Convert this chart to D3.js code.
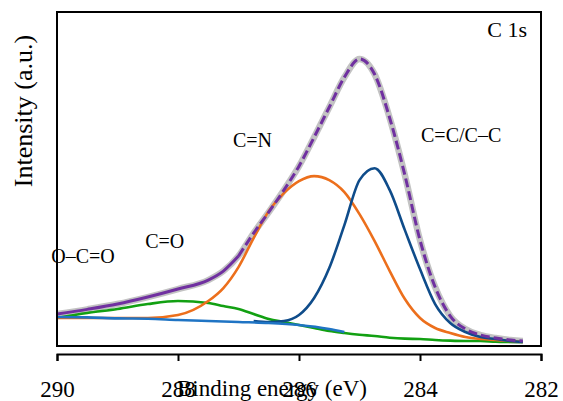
<!DOCTYPE html>
<html>
<head>
<meta charset="utf-8">
<script src="https://cdn.jsdelivr.net/npm/d3@7"></script>
<style>
  body { margin: 0; background: #fff; }
  text { font-family: "Liberation Serif", "Times New Roman", serif; fill: #000; }
</style>
</head>
<body>
<svg width="563" height="401"></svg>
<script>
// binding energies (eV) shared by all traces
var energy = [290.0, 289.5, 289.0, 288.5, 288.0, 287.5, 287.25, 287.0, 286.75, 286.5, 286.25, 286.0,
  285.75, 285.5, 285.25, 285.0, 284.75, 284.5, 284.25, 284.0, 283.75, 283.5, 283.25, 283.0,
  282.75, 282.5, 282.3];

// intensities (a.u.); null = not drawn there
var envelope = [93, 107, 123, 144, 168, 195, 222, 267, 336, 399, 465, 537,
  624, 714, 804, 859, 813, 681, 510, 315, 174, 87, 48, 30, 21, 15, 12];
var peakCN = [81, 81, 81, 81, 90, 132, 171, 234, 321, 402, 456, 492,
  507, 495, 459, 393, 312, 222, 138, 81, 51, 36, 24, 18, 15, 12, 9];
var peakCO = [81, 96, 108, 123, 132, 126, 117, 108, 93, 78, 69, 60,
  51, 42, 36, 31, 27, 22, 19, 18, 15, 13, 12, 12, 10, 9, 9];
var peakCC = [null, null, null, null, null, null, null, null, 72, 69, 72, 90,
  141, 231, 360, 495, 531, 465, 345, 228, 123, 66, 39, 24, 18, 12, 9];
var background = [84, 83, 80, 79, 75, 72, null, 69, null, 66, null, 60, null, 48, 39,
  null, null, null, null, null, null, null, null, null, null, null, null];

var xTicks = [290, 288, 286, 284, 282];

var labels = [
  { text: 'O\u2013C=O', e: 289.57, y: 263 },
  { text: 'C=O', e: 288.22, y: 248 },
  { text: 'C=N', e: 286.77, y: 147 },
  { text: 'C=C/C\u2013C', e: 283.32, y: 142 }
];

var svg = d3.select('svg');
var plotLeft = 57, plotRight = 541, plotTop = 12, plotBottom = 346;

var x = d3.scaleLinear().domain([290, 282]).range([plotLeft, plotRight]);
var y = d3.scaleLinear().domain([0, 1000]).range([345, 12]);

svg.append('clipPath').attr('id', 'plot')
  .append('rect')
  .attr('x', plotLeft).attr('y', plotTop)
  .attr('width', plotRight - plotLeft).attr('height', plotBottom - plotTop);

var line = d3.line()
  .x(function(d) { return x(d[0]); })
  .y(function(d) { return y(d[1]); })
  .curve(d3.curveMonotoneX);

// pair each value with its energy and drop the empty ones
function points(values) {
  return values
    .map(function(v, i) { return [energy[i], v]; })
    .filter(function(d) { return d[1] != null; });
}

var g = svg.append('g').attr('clip-path', 'url(#plot)');

function trace(values, color, width, dash) {
  var p = g.append('path')
    .datum(points(values))
    .attr('fill', 'none')
    .attr('stroke', color)
    .attr('stroke-width', width)
    .attr('stroke-linejoin', 'round')
    .attr('d', line);
  if (dash) p.attr('stroke-dasharray', dash);
  return p;
}

// measured spectrum (thick grey) under the fit
trace(envelope, '#c3c3c3', 6.5);
trace(peakCO, '#12a012', 2.6);
trace(peakCN, '#ec6f1c', 2.6);
trace(peakCC, '#0f4c8a', 2.6);
trace(background, '#1f74c4', 2.6);

// fit envelope: solid on the low-slope side, dashed over the peak
var solidPart = envelope.map(function(v, i) { return energy[i] >= 287.0 ? v : null; });
var dashPart = envelope.map(function(v, i) { return energy[i] <= 287.0 ? v : null; });
trace(solidPart, '#7030a0', 3);
trace(dashPart, '#7030a0', 3, '9,4');

// frame
svg.append('rect')
  .attr('x', plotLeft).attr('y', plotTop)
  .attr('width', plotRight - plotLeft).attr('height', plotBottom - plotTop)
  .attr('fill', 'none').attr('stroke', '#000').attr('stroke-width', 2);

// bottom axis, detached from the frame
var axis = svg.append('g')
  .attr('transform', 'translate(0,354)')
  .call(d3.axisBottom(x).tickValues(xTicks).tickSize(7).tickPadding(20).tickFormat(d3.format('d')));
axis.select('.domain').attr('stroke', '#000').attr('stroke-width', 2);
axis.selectAll('.tick line').attr('stroke', '#000').attr('stroke-width', 2);
axis.selectAll('.tick text')
  .style('font-family', '"Liberation Serif", "Times New Roman", serif')
  .style('font-size', '23px').attr('fill', '#000');

svg.append('text')
  .attr('x', 272).attr('y', 396)
  .attr('text-anchor', 'middle')
  .style('font-size', '23px')
  .text('Binding energy (eV)');

svg.append('text')
  .attr('transform', 'translate(32,111) rotate(-90)')
  .attr('text-anchor', 'middle')
  .style('font-size', '26px')
  .text('Intensity (a.u.)');

svg.append('text')
  .attr('x', 527).attr('y', 37)
  .attr('text-anchor', 'end')
  .style('font-size', '22px')
  .text('C 1s');

svg.selectAll('.peak-label')
  .data(labels)
  .enter().append('text')
  .attr('class', 'peak-label')
  .attr('x', function(d) { return x(d.e); })
  .attr('y', function(d) { return d.y; })
  .attr('text-anchor', 'middle')
  .style('font-size', '20px')
  .text(function(d) { return d.text; });
</script>
</body>
</html>
